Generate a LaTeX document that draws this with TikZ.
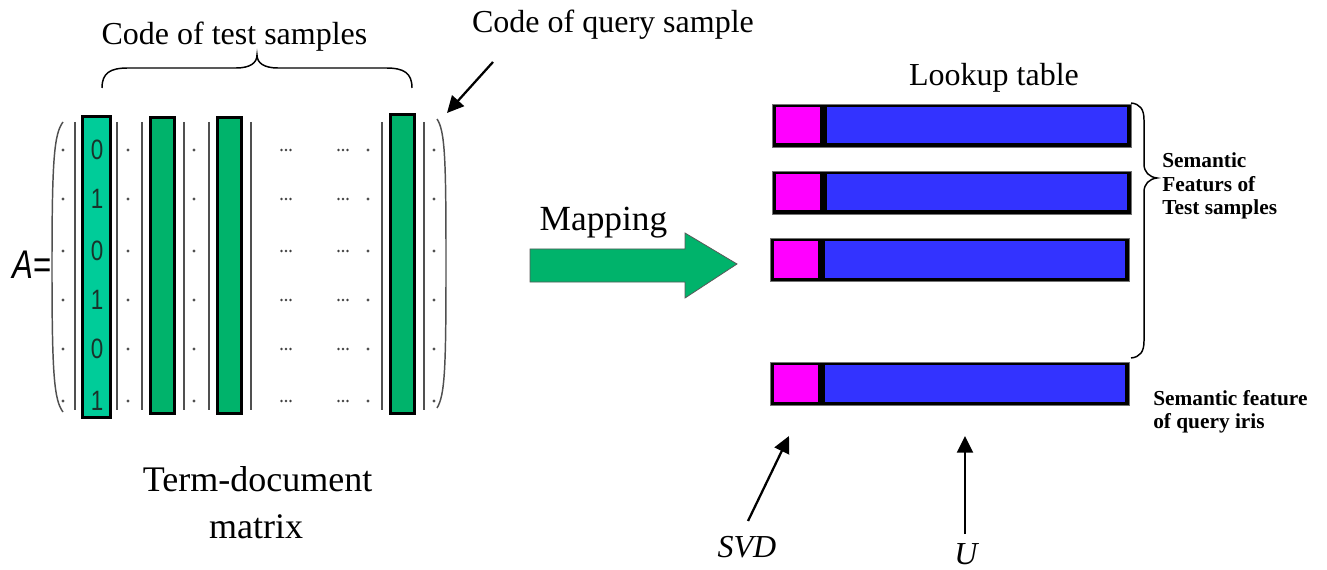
\documentclass[tikz,border=0pt]{standalone}
\usepackage{fontspec}
\setmainfont{Liberation Serif}
\newfontfamily\sansfam{Liberation Sans}
\usetikzlibrary{arrows.meta,fit}

\definecolor{colteal}{RGB}{0,204,153}
\definecolor{colgreen}{RGB}{0,179,107}
\definecolor{colmag}{RGB}{255,0,255}
\definecolor{colblue}{RGB}{51,51,255}
\definecolor{colrule}{RGB}{80,80,80}
\definecolor{digitcol}{RGB}{25,50,42}

\begin{document}
\begin{tikzpicture}[x=0.75pt,y=-0.75pt,
  colbox/.style={draw=black, line width=2.25pt, inner sep=0pt},
  rulel/.style={draw=colrule, line width=1.1pt},
  barbox/.style={fill=black, draw=black!55, line width=0.4pt, inner sep=0pt},
  ptr/.style={draw=black, line width=1.7pt, -{Triangle[length=12.5pt,width=12pt]}},
  lbl/.style={font=\fontsize{24}{28}\selectfont, inner sep=0pt, anchor=base},
  big/.style={font=\fontsize{27}{30}\selectfont, inner sep=0pt, anchor=base},
  side/.style={font=\bfseries\fontsize{16}{18}\selectfont, inner sep=0pt, anchor=base west},
  dig/.style={font=\sansfam\fontsize{21}{21}\selectfont, text=digitcol, inner sep=0pt, xscale=0.8}
]
\useasboundingbox (0,0) rectangle (1327,570);

% ---------- term-document matrix ----------
\node[inner sep=0pt, anchor=base west, xscale=0.78,
      font=\sansfam\fontsize{30}{30}\selectfont] (aeq) at (12,278) {\itshape A\upshape=};

% parentheses
\draw[colrule, line width=1.1pt] (63,122) .. controls (54,134) and (52,160) .. (52,267)
      .. controls (52,374) and (54,400) .. (63,412);
\draw[colrule, line width=1.1pt] (437,119) .. controls (445,131) and (446,158) .. (446,263)
      .. controls (446,368) and (445,395) .. (437,408);

% separating rules
\foreach \xr in {75,117,142,184,209,251,382,424}
  \draw[rulel] (\xr,122) -- (\xr,410);

% columns
\node[colbox, fill=colteal, fit={(82.5,116.5) (110.5,417.5)}] (c1) {};
\node[colbox, fill=colgreen, fit={(150.5,117.5) (174.5,413.5)}] (c2) {};
\node[colbox, fill=colgreen, fit={(217.5,117.5) (241.5,413.5)}] (c3) {};
\node[colbox, fill=colgreen, fit={(390.5,114.5) (414.5,413.5)}] (c4) {};

% entries of the first column
\foreach \yr/\d [count=\k] in {150/0,199/1,251/0,300/1,349/0,401/1}
  \node[dig] (d\k) at (97,\yr) {\d};

% dots and ellipses
\foreach \yr in {150,199,251,300,349,401}{
  \foreach \xd in {63,128,194,368,434}
    \fill[colrule] (\xd,\yr) circle (1.2pt);
  \foreach \xe in {286,343}
    \foreach \o in {-4.5,0,4.5}
      \fill[black!75] (\xe+\o,\yr) circle (1pt);
}

% brace over the test columns
\draw[black, line width=1.1pt] (102,88) .. controls (102,73) and (110,68) .. (128,68)
   -- (236,68) .. controls (250,68) and (257,63) .. (257,55)
   .. controls (257,63) and (264,68) .. (278,68) -- (386,68)
   .. controls (404,68) and (412,73) .. (412,88);

\node[lbl] (ctest) at (234.5,45) {Code of test samples};
\node[lbl] (cquery) at (613,33) {Code of query sample};
\coordinate (qfrom) at (493,62);
\coordinate (qto) at (447,113);
\draw[ptr] (qfrom) -- (qto);

\node[big] (tdm1) at (257.5,491) {Term-document};
\node[big] (tdm2) at (256,538) {matrix};

% ---------- mapping arrow ----------
\node[font=\fontsize{26.5}{30}\selectfont, inner sep=0pt, anchor=base] (map) at (603.5,231) {Mapping};
\draw[fill=colgreen, draw=black!65, line width=0.6pt]
  (530,249) -- (685,249) -- (685,233) -- (737,264) -- (685,298) -- (685,282) -- (530,282) -- cycle;

% ---------- lookup table ----------
\node[lbl] (lut) at (994,86) {Lookup table};
\foreach \k/\yb/\xo in {1/104/772, 2/171/772, 3/238/770, 4/362/770}{
  \node[barbox, fit={(\xo,\yb) (\xo+359,\yb+43)}] (bar\k) {};
  \fill[colmag] (\xo+4,\yb+3) rectangle (\xo+47.5,\yb+39.5);
  \fill[colblue] (\xo+55,\yb+3) rectangle (\xo+355,\yb+39.5);
}

% brace grouping the test rows
\draw[black, line width=1.1pt] (1131,103) .. controls (1140,104) and (1144,109) .. (1144,120)
   -- (1144,164) .. controls (1144,172) and (1149,177) .. (1157,178)
   .. controls (1149,179) and (1144,184) .. (1144,192) -- (1144,341)
   .. controls (1144,352) and (1140,357) .. (1131,358);

\node[side] (st1) at (1162,168) {Semantic};
\node[side] (st2) at (1162,192) {Featurs of};
\node[side] (st3) at (1162,215) {Test samples};
\node[side] (sq1) at (1153,405) {Semantic feature};
\node[side] (sq2) at (1153,428) {of query iris};

% pointers from below
\node[lbl, font=\itshape\fontsize{24}{28}\selectfont] (svd) at (747,557) {SVD};
\node[lbl, font=\itshape\fontsize{24}{28}\selectfont] (uu) at (966,564) {U};
\coordinate (svdfrom) at (748,521);
\coordinate (svdto) at (789,436);
\coordinate (ufrom) at (965,534);
\coordinate (uto) at (965,436);
\draw[ptr] (svdfrom) -- (svdto);
\draw[ptr] (ufrom) -- (uto);
\end{tikzpicture}
\end{document}
